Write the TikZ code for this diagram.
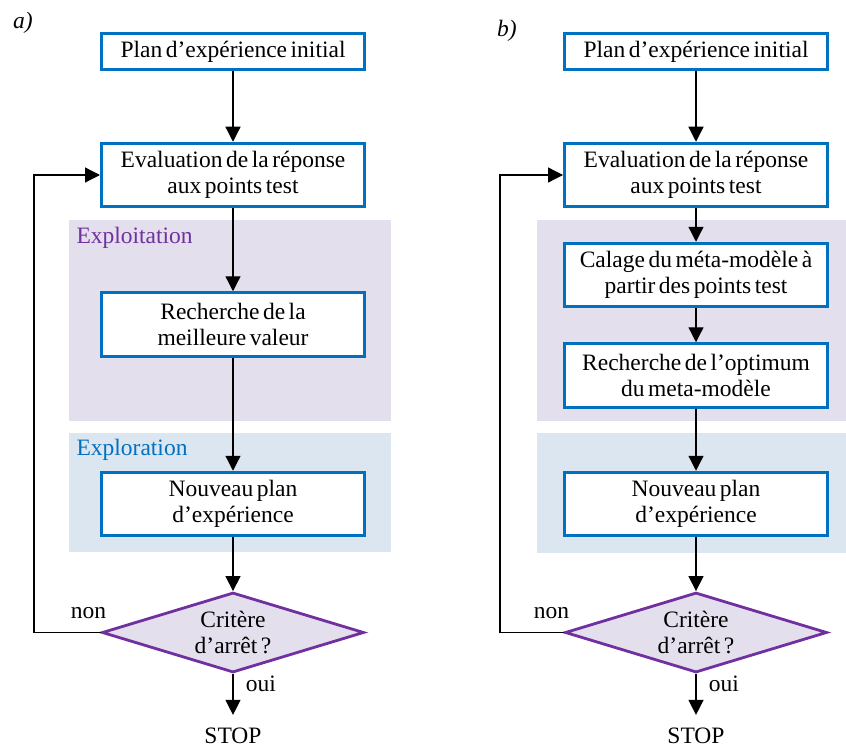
\documentclass[tikz,border=0pt]{standalone}
\usepackage{fontspec}
\setmainfont[WordSpace=0.6]{Liberation Serif}
\usetikzlibrary{arrows.meta,shapes.geometric}
\definecolor{bleuF}{HTML}{0070C0}\definecolor{violetF}{HTML}{7030A0}
\definecolor{fondV}{HTML}{E4DFEC}\definecolor{fondB}{HTML}{DCE6F1}
\tikzset{>={Triangle[width=15pt,length=15pt]},every node/.style={font=\fontsize{23.5}{26}\selectfont},
etape/.style={draw=bleuF,line width=3pt,fill=white,minimum width=263pt,minimum height=63.5pt,align=center,inner sep=2pt},
critere/.style={diamond,draw=violetF,fill=fondV,line width=2.8pt,aspect=3.2,minimum width=262pt,minimum height=80pt,align=center,inner sep=0pt},
flow/.style={->,line width=1.3pt}}

\begin{document}
\begin{tikzpicture}[x=1pt,y=-1pt]
\useasboundingbox (0,0) rectangle (846,749);
% fonds
\fill[fondV] (69,220) rectangle (391,421);\fill[fondB] (69,433) rectangle (391,552);
\fill[fondV] (537,220) rectangle (846,421);\fill[fondB] (537,433) rectangle (846,553);
\node[anchor=base west,text=violetF] (lbexploit) at (73,243){Exploitation};
\node[anchor=base west,text=bleuF] (lbexplor) at (73,455){Exploration};
\node[font=\fontsize{23.5}{26}\selectfont\itshape] (lba) at (23,23){a)};
\node[font=\fontsize{23.5}{26}\selectfont\itshape] (lbb) at (507,31){b)};
% etapes communes
\foreach \cx/\p/\lx in {233/a/34,696/b/500}{
\node[etape,minimum height=36pt] (plan\p) at (\cx,51.5){Plan d’expérience initial};
\node[etape] (eval\p) at (\cx,175){Evaluation de la réponse\\aux points test};
\node[etape] (nouv\p) at (\cx,504){Nouveau plan\\d’expérience};
\node[critere] (crit\p) at (\cx,632.5){Critère\\d’arrêt ?};
\node[inner ysep=13pt] (stop\p) at (\cx,736){STOP};
\node (non\p) at ([xshift=-12pt,yshift=19pt]crit\p.west){non};\node (oui\p) at ([xshift=28pt,yshift=-10pt]crit\p.south){oui};
\draw[flow] (plan\p)--(eval\p);\draw[flow] (nouv\p)--(crit\p);\draw[flow] (crit\p)--(stop\p);
\draw[flow] (crit\p.west) -| (\lx,400) |- (eval\p.west);
}
% a)
\node[etape] (rech) at (233,324.5){Recherche de la\\meilleure valeur};
\draw[flow] (evala)--(rech);\draw[flow] (rech)--(nouva);
% b)
\node[etape] (calage) at (696,275){Calage du méta-modèle à\\partir des points test};
\node[etape] (optim) at (696,375.5){Recherche de l’optimum\\du meta-modèle};
\draw[flow] (evalb)--(calage);\draw[flow] (calage)--(optim);\draw[flow] (optim)--(nouvb);
\end{tikzpicture}
\end{document}
